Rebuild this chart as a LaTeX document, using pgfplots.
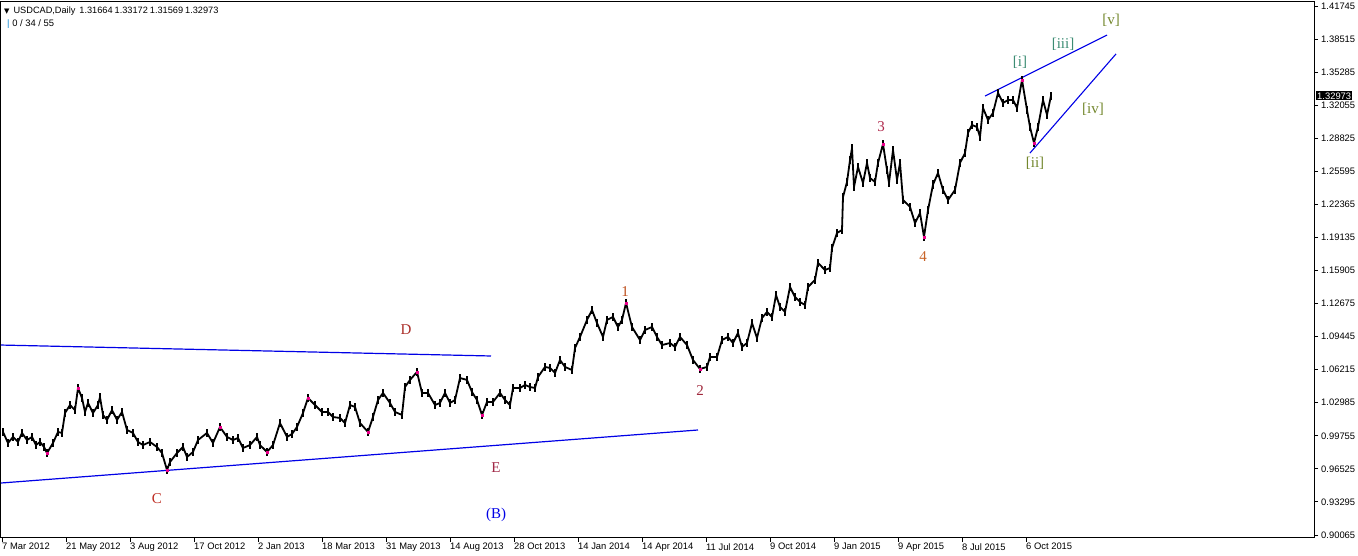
\documentclass[border=0pt]{standalone}
\usepackage{pgfplots}
\pgfplotsset{compat=1.18}
\usepackage{fontspec}
\setmainfont{Liberation Sans}
\newfontfamily\wavefont{Liberation Serif}
\newfontfamily\symfont{DejaVu Sans}

\definecolor{lblC}{RGB}{190,45,35}
\definecolor{lblD}{RGB}{170,45,40}
\definecolor{lblE}{RGB}{160,40,70}
\definecolor{lblOne}{RGB}{190,80,30}
\definecolor{lblTwo}{RGB}{160,40,60}
\definecolor{lblThree}{RGB}{175,40,75}
\definecolor{lblFour}{RGB}{200,100,40}
\definecolor{teal}{RGB}{60,140,115}
\definecolor{olive}{RGB}{115,135,45}
\definecolor{mtblue}{RGB}{0,0,230}

% USDCAD daily closes, x = bar position on the chart
\pgfplotstableread{
x p
3 1.0013
8 0.9905
13 0.9964
18 0.9915
22 1.0003
27 0.9934
32 0.9964
36 0.9885
40 0.9915
44 0.9866
47 0.9807
53 0.9905
58 1.0013
62 1.0003
65 1.0198
70 1.0276
75 1.0227
78 1.0442
82 1.0345
85 1.0208
88 1.0296
93 1.0198
98 1.0276
100 1.0354
103 1.0179
107 1.0130
112 1.0227
117 1.0130
122 1.0208
127 1.0032
133 1.0003
138 0.9915
143 0.9885
150 0.9915
157 0.9866
162 0.9807
167 0.9641
170 0.9719
177 0.9807
183 0.9866
187 0.9768
193 0.9817
198 0.9934
207 1.0003
213 0.9905
220 1.0061
227 0.9964
233 0.9934
238 0.9954
243 0.9856
250 0.9885
257 0.9964
260 0.9885
267 0.9817
273 0.9885
280 1.0100
287 0.9964
292 0.9993
297 1.0061
303 1.0198
308 1.0345
315 1.0276
322 1.0208
328 1.0208
333 1.0159
340 1.0149
345 1.0100
350 1.0276
355 1.0257
360 1.0100
368 1.0013
373 1.0159
378 1.0325
383 1.0394
390 1.0296
395 1.0208
402 1.0179
405 1.0452
410 1.0521
417 1.0599
422 1.0394
428 1.0394
435 1.0276
440 1.0296
445 1.0394
450 1.0296
455 1.0325
460 1.0540
467 1.0521
472 1.0403
477 1.0325
482 1.0179
487 1.0306
493 1.0306
500 1.0394
505 1.0325
510 1.0276
513 1.0442
520 1.0442
525 1.0472
530 1.0452
535 1.0442
538 1.0550
545 1.0648
550 1.0638
555 1.0589
560 1.0716
565 1.0648
572 1.0618
575 1.0833
580 1.0941
587 1.1107
592 1.1204
597 1.1077
603 1.0941
607 1.1107
613 1.1136
618 1.1038
622 1.1107
626 1.1273
632 1.1038
640 1.0911
645 1.1009
652 1.1038
657 1.0941
662 1.0862
670 1.0882
675 1.0843
680 1.0941
687 1.0862
693 1.0716
700 1.0628
707 1.0648
710 1.0745
717 1.0745
722 1.0911
728 1.0941
733 1.0882
738 1.0980
742 1.0843
747 1.0882
752 1.1077
757 1.0931
762 1.1126
767 1.1185
772 1.1136
776 1.1351
780 1.1234
785 1.1185
790 1.1429
795 1.1331
800 1.1283
805 1.1253
808 1.1429
815 1.1498
818 1.1664
825 1.1595
830 1.1615
832 1.1810
837 1.1957
842 1.1986
843 1.2308
847 1.2455
850 1.2670
852 1.2787
854 1.2406
858 1.2602
863 1.2445
867 1.2641
870 1.2494
875 1.2455
878 1.2641
883 1.2826
887 1.2572
889 1.2445
893 1.2768
897 1.2475
900 1.2641
903 1.2279
910 1.2211
915 1.2054
920 1.2152
924 1.1918
928 1.2181
933 1.2430
938 1.2543
943 1.2377
948 1.2279
955 1.2377
960 1.2641
965 1.2738
968 1.2934
972 1.3012
977 1.2992
980 1.2895
983 1.3178
988 1.3061
993 1.3129
998 1.3325
1003 1.3227
1008 1.3256
1013 1.3256
1017 1.3178
1022 1.3452
1027 1.3158
1030 1.2992
1034 1.2836
1038 1.2992
1043 1.3256
1047 1.3110
1051 1.3297
}\closes

\begin{document}
\begin{tikzpicture}
\begin{axis}[
  name=ax,
  scale only axis,
  width=1313pt, height=536pt,
  xmin=1, xmax=1314,
  ymin=0.89768, ymax=1.42136,
  axis line style={line width=1pt},
  tick style={black, line width=0.8pt},
  major tick length=4pt,
  tick align=outside,
  xtick pos=lower,
  ytick pos=upper,
  yticklabel pos=upper,
  font=\fontsize{9.4}{10}\selectfont,
  xtick={2,66,130,194,258,322,386,450,514,578,642,706,770,834,898,962,1026},
  xticklabels={7 Mar 2012,21 May 2012,3 Aug 2012,17 Oct 2012,2 Jan 2013,18 Mar 2013,31 May 2013,14 Aug 2013,28 Oct 2013,14 Jan 2014,14 Apr 2014,11 Jul 2014,9 Oct 2014,9 Jan 2015,9 Apr 2015,8 Jul 2015,6 Oct 2015},
  xticklabel style={anchor=north west, inner sep=0pt, xshift=0pt, yshift=-1pt},
  ytick={0.90065,0.93295,0.96525,0.99755,1.02985,1.06215,1.09445,1.12675,1.15905,1.19135,1.22365,1.25595,1.28825,1.32055,1.35285,1.38515,1.41745},
  yticklabels={0.90065,0.93295,0.96525,0.99755,1.02985,1.06215,1.09445,1.12675,1.15905,1.19135,1.22365,1.25595,1.28825,1.32055,1.35285,1.38515,1.41745},
  yticklabel style={anchor=west, inner sep=0pt, xshift=3pt},
  clip=false,
]
% trend lines
\addplot[mtblue, line width=1.2pt] coordinates {(1,1.0862) (491,1.0755)};
\addplot[mtblue, line width=1.2pt] coordinates {(1,0.9514) (698,1.0032)};
\addplot[mtblue, line width=1.1pt] coordinates {(985,1.3295) (1107,1.3891)};
\addplot[mtblue, line width=1.1pt] coordinates {(1030,1.2738) (1116,1.3706)};

% price, with the bars' daily range drawn round each close
\addplot[black, line width=1.8pt, line join=bevel,
  error bars/.cd, y dir=both, y fixed=0.004,
  error bar style={line width=1.1pt}, error mark=none]
  table[x=x, y=p] {\closes};

% zigzag pivots
\addplot[only marks, mark=square*, mark size=0.8pt, magenta] coordinates {
  (47,0.9807) (78,1.0442) (167,0.9641) (220,1.0061) (267,0.9817) (308,1.0345)
  (368,1.0013) (417,1.0599) (482,1.0179) (626,1.1273) (700,1.0628)
  (883,1.2826) (924,1.1918) (1022,1.3452) (1034,1.2836)};

% wave labels
\begin{scope}[every node/.style={font=\wavefont\fontsize{15}{16}\selectfont, inner sep=0pt}]
\node[lblD] at (axis cs:406,1.1009) {D};
\node[lblC] at (axis cs:157,0.9358) {C};
\node[lblE] at (axis cs:496,0.9661) {E};
\node[mtblue] at (axis cs:496,0.9202) {(B)};
\node[lblOne] at (axis cs:625,1.1380) {1};
\node[lblTwo] at (axis cs:700,1.0413) {2};
\node[lblThree] at (axis cs:881,1.2992) {3};
\node[lblFour] at (axis cs:923,1.1722) {4};
\node[teal] at (axis cs:1020,1.3627) {[i]};
\node[olive] at (axis cs:1035,1.2641) {[ii]};
\node[teal] at (axis cs:1063,1.3803) {[iii]};
\node[olive] at (axis cs:1093,1.3168) {[iv]};
\node[olive] at (axis cs:1111,1.4038) {[v]};
\end{scope}

% current price tag
\node[anchor=west, fill=black, text=white, inner sep=1pt, font=\fontsize{9.4}{10}\selectfont]
  at (axis cs:1316,1.32973) {1.32973};

% header
\node[anchor=north west, inner sep=0pt, font=\fontsize{9.2}{11}\selectfont]
  at ([xshift=3pt,yshift=-5pt]rel axis cs:0,1) {{\symfont\fontsize{7}{8}\selectfont ▼}\hspace{4pt}USDCAD,Daily\hspace{4pt}1.31664\hspace{2pt}1.33172\hspace{2pt}1.31569\hspace{2pt}1.32973};
\node[anchor=north west, inner sep=0pt, font=\fontsize{9.4}{10}\selectfont]
  at ([xshift=6pt,yshift=-17pt]rel axis cs:0,1) {\textcolor{cyan!70!blue}{|} 0 / 34 / 55};
\end{axis}
\pgfresetboundingbox
\path ([xshift=-1pt,yshift=-18pt]ax.south west) rectangle ([xshift=44pt,yshift=2pt]ax.north east);
\end{tikzpicture}
\end{document}
